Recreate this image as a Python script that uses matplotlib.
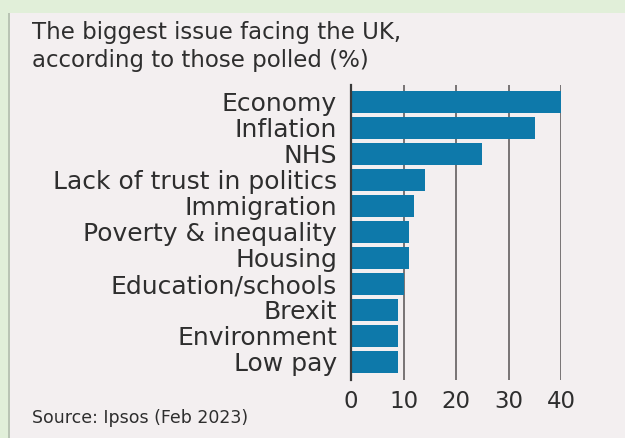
import matplotlib
matplotlib.use("Agg")
import matplotlib.pyplot as plt
from matplotlib.patches import Rectangle

categories = ["Economy", "Inflation", "NHS", "Lack of trust in politics",
              "Immigration", "Poverty & inequality", "Housing",
              "Education/schools", "Brexit", "Environment", "Low pay"]
values = [40, 35, 25, 14, 12, 11, 11, 10, 9, 9, 9]
xticks = [0, 10, 20, 30, 40]

title_lines = ["The biggest issue facing the UK,",
               "according to those polled (%)"]
source = "Source: Ipsos (Feb 2023)"

FONT = "DejaVu Sans"
TEXT = "#2e2e2e"
BAR = "#0e79aa"
PANEL = "#f3eff0"
FRAME = "#e1efd9"
GRID = "#6e6a6b"

W, H = 625, 438
fig = plt.figure(figsize=(W / 100, H / 100), dpi=100)
fig.patch.set_facecolor(FRAME)

# inner panel with a thin grey left rule
fig.add_artist(Rectangle((10 / W, 0), 1 - 10 / W, 1 - 13 / H,
                         transform=fig.transFigure, facecolor=PANEL,
                         edgecolor="none", zorder=0))
fig.add_artist(Rectangle((8 / W, 0), 2 / W, 1 - 13 / H,
                         transform=fig.transFigure, facecolor="#b9c4b4",
                         edgecolor="none", zorder=0))

# axes: x=0 at px 351, x=40 at px 561
x0, x40 = 351, 561
ax_top = 85
ax_bot = 380
ax = fig.add_axes([x0 / W, 1 - ax_bot / H, (x40 - x0) / W,
                   (ax_bot - ax_top) / H])
ax.set_facecolor("none")

ypos = list(range(len(categories)))
ax.barh(ypos, values, height=0.86, color=BAR, zorder=3)
ax.set_ylim(len(categories) - 0.5 + 0.2, -0.5 - 0.15)
ax.set_xlim(0, 40)

ax.set_xticks(xticks)
ax.set_xticklabels([str(t) for t in xticks], fontsize=16.5, color=TEXT,
                   family=FONT)
ax.tick_params(axis="x", length=0, pad=7)
ax.set_yticks(ypos)
ax.set_yticklabels(categories, fontsize=18, color=TEXT, family=FONT)
ax.tick_params(axis="y", length=0, pad=10)

ax.grid(axis="x", color=GRID, linewidth=1.3, zorder=1)
for s in ["top", "right", "bottom"]:
    ax.spines[s].set_visible(False)
ax.spines["left"].set_color("#3a3a3a")
ax.spines["left"].set_linewidth(1.6)
ax.spines["left"].set_zorder(4)

fig.text(32 / W, 1 - 33 / H, title_lines[0], fontsize=16.5, color=TEXT,
         family=FONT, ha="left", va="center")
fig.text(32 / W, 1 - 60 / H, title_lines[1], fontsize=16.5, color=TEXT,
         family=FONT, ha="left", va="center")
fig.text(32 / W, 1 - 418 / H, source, fontsize=12.5, color=TEXT,
         family=FONT, ha="left", va="center")

fig.savefig("out.png", dpi=100, facecolor=fig.get_facecolor())
